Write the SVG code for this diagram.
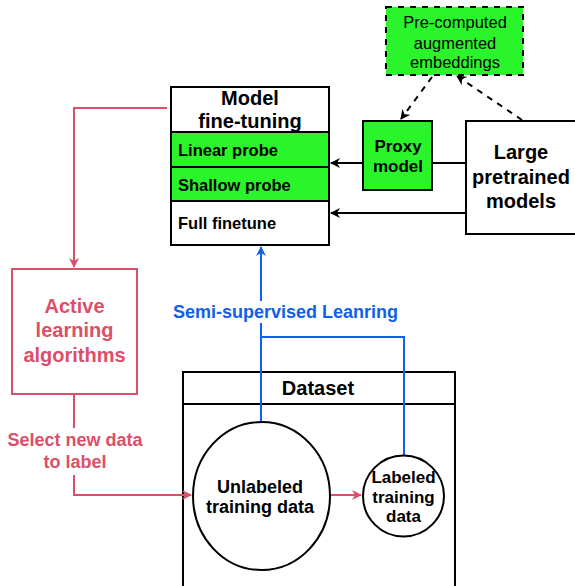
<svg xmlns="http://www.w3.org/2000/svg" width="575" height="586" viewBox="0 0 575 586">
<style>
text{font-family:"Liberation Sans",Arial,sans-serif;font-weight:bold;text-anchor:middle;fill:#000}
.box{fill:#fff;stroke:#000;stroke-width:2}
.g{fill:#2AF52A;stroke:#000;stroke-width:2}
.k{fill:none;stroke:#000;stroke-width:2}
.r{fill:none;stroke:#DB4F68;stroke-width:2}
.b{fill:none;stroke:#1060EE;stroke-width:2}
.d{fill:none;stroke:#000;stroke-width:2;stroke-dasharray:6 6}
.rt{fill:#DB4F68}
.bt{fill:#1060EE}
.n{font-weight:normal}
</style>
<defs>
<marker id="ak" markerWidth="10" markerHeight="10" refX="9" refY="5" orient="auto" markerUnits="userSpaceOnUse"><path d="M0,0 L10,5 L0,10 L3,5 Z" fill="#000"/></marker>
<marker id="ar" markerWidth="10" markerHeight="10" refX="9" refY="5" orient="auto" markerUnits="userSpaceOnUse"><path d="M0,0 L10,5 L0,10 L3,5 Z" fill="#DB4F68"/></marker>
<marker id="ab" markerWidth="10" markerHeight="10" refX="9" refY="5" orient="auto" markerUnits="userSpaceOnUse"><path d="M0,0 L10,5 L0,10 L3,5 Z" fill="#1060EE"/></marker>
</defs>

<g id="dataset">
<rect class="box" x="183" y="372" width="272" height="220"/>
<line class="k" x1="183" y1="404" x2="455" y2="404"/>
<text x="318" y="395" font-size="20">Dataset</text>
</g>

<g id="connectors">
<line class="k" x1="466" y1="163" x2="432" y2="163"/>
<line class="k" x1="363" y1="163" x2="331" y2="163" marker-end="url(#ak)"/>
<line class="k" x1="466" y1="213" x2="331" y2="213" marker-end="url(#ak)"/>
<line class="d" x1="522" y1="120" x2="457" y2="76" marker-end="url(#ak)"/>
<line class="d" x1="432" y1="77" x2="401" y2="119" marker-end="url(#ak)"/>
<polyline class="r" points="167,108 74,108 74,267" marker-end="url(#ar)"/>
<polyline class="r" points="74,394 74,428"/>
<polyline class="r" points="74,475 74,495 191,495" marker-end="url(#ar)"/>
<line class="r" x1="330" y1="495" x2="361" y2="495" marker-end="url(#ar)"/>
<line class="b" x1="261" y1="423" x2="261" y2="247" marker-end="url(#ab)"/>
<polyline class="b" points="261,337 404,337 404,456"/>
<rect x="172" y="301" width="228" height="22" fill="#fff"/>
<text class="bt" x="285.5" y="318" font-size="18">Semi-supervised Leanring</text>
<text class="rt" x="75" y="446" font-size="18">Select new data</text>
<text class="rt" x="75" y="468" font-size="18">to label</text>
</g>

<g id="precomputed">
<rect class="g" x="386" y="7" width="137" height="68" stroke-dasharray="6 6"/>
<text class="n" x="455" y="28" font-size="16.5">Pre-computed</text>
<text class="n" x="455" y="49" font-size="16.5">augmented</text>
<text class="n" x="455" y="68" font-size="16.5">embeddings</text>
</g>

<g id="model-finetuning">
<rect class="box" x="171" y="87" width="158" height="158"/>
<text x="250" y="105" font-size="20">Model</text>
<text x="250" y="128" font-size="20">fine-tuning</text>
<rect class="g" x="171" y="132" width="158" height="35"/>
<rect class="g" x="171" y="167" width="158" height="34"/>
<line class="k" x1="171" y1="201" x2="329" y2="201"/>
<text x="178" y="156" font-size="16.5" style="text-anchor:start">Linear probe</text>
<text x="178" y="191" font-size="16.5" style="text-anchor:start">Shallow probe</text>
<text x="178" y="229" font-size="16.5" style="text-anchor:start">Full finetune</text>
</g>

<g id="proxy">
<rect class="g" x="363" y="121" width="69" height="69"/>
<text x="398" y="152" font-size="17">Proxy</text>
<text x="398" y="172" font-size="17">model</text>
</g>

<g id="large">
<rect class="box" x="466" y="121" width="115" height="113"/>
<text x="521" y="159" font-size="20">Large</text>
<text x="521" y="184" font-size="20">pretrained</text>
<text x="521" y="208" font-size="20">models</text>
</g>

<g id="active">
<rect x="12" y="269" width="125" height="125" fill="#fff" stroke="#DB4F68" stroke-width="2"/>
<text class="rt" x="74.5" y="313" font-size="20">Active</text>
<text class="rt" x="74.5" y="337" font-size="20">learning</text>
<text class="rt" x="74.5" y="362" font-size="20">algorithms</text>
</g>

<g id="unlabeled">
<ellipse class="box" cx="261.5" cy="496" rx="68.5" ry="74"/>
<text x="260" y="493" font-size="18">Unlabeled</text>
<text x="260" y="513" font-size="18">training data</text>
</g>

<g id="labeled">
<circle class="box" cx="403.5" cy="496" r="40.5"/>
<text x="403.5" y="483" font-size="17">Labeled</text>
<text x="403.5" y="503" font-size="17">training</text>
<text x="403.5" y="522" font-size="17">data</text>
</g>
</svg>
